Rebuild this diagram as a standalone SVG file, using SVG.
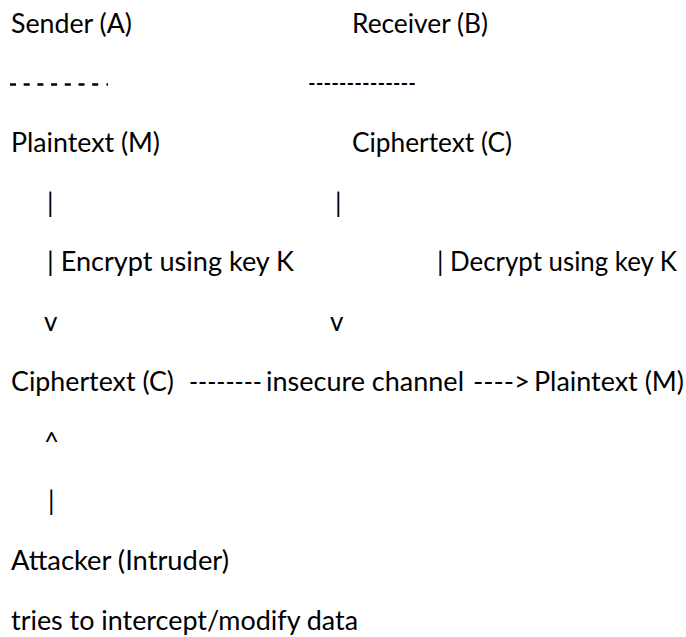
<svg xmlns="http://www.w3.org/2000/svg" width="686" height="637" viewBox="0 0 686 637">
  <style>
    text { font-family: Lato, "Open Sans", "Liberation Sans", sans-serif; font-size: 26px; fill: #000; }
    .rule { stroke: #000; stroke-width: 2.4; fill: none; }
  </style>
  <rect width="686" height="637" fill="#fff"/>

  <!-- party headings -->
  <g id="sender">
    <text x="11" y="32.6" textLength="121" lengthAdjust="spacingAndGlyphs">Sender (A)</text>
    <line class="rule" x1="10" y1="84.5" x2="102" y2="84.5" stroke-dasharray="6 7.7"/>
    <line class="rule" x1="106.5" y1="84.5" x2="108" y2="84.5"/>
  </g>
  <g id="receiver">
    <text x="352" y="32.6" textLength="136" lengthAdjust="spacingAndGlyphs">Receiver (B)</text>
    <text x="308" y="92.3" textLength="108" lengthAdjust="spacingAndGlyphs">--------------</text>
  </g>

  <!-- message states -->
  <g id="plaintext-a">
    <text x="11" y="152" textLength="149" lengthAdjust="spacingAndGlyphs">Plaintext (M)</text>
  </g>
  <g id="ciphertext-b">
    <text x="352" y="152" textLength="160" lengthAdjust="spacingAndGlyphs">Ciphertext (C)</text>
  </g>
  <g id="ciphertext-a">
    <text x="11" y="390.8" textLength="163" lengthAdjust="spacingAndGlyphs">Ciphertext (C)</text>
  </g>
  <g id="plaintext-b">
    <text x="534" y="390.8" textLength="150" lengthAdjust="spacingAndGlyphs">Plaintext (M)</text>
  </g>
  <g id="attacker">
    <text x="11" y="570" textLength="218" lengthAdjust="spacingAndGlyphs">Attacker (Intruder)</text>
    <text x="11" y="629.6" textLength="347" lengthAdjust="spacingAndGlyphs">tries to intercept/modify data</text>
  </g>

  <!-- character-drawn connectors -->
  <g id="connectors">
    <text x="47" y="211.7">|</text>
    <text x="335" y="211.7">|</text>
    <text x="47" y="271.4" textLength="247" lengthAdjust="spacingAndGlyphs">| Encrypt using key K</text>
    <text x="437" y="271.4" textLength="240" lengthAdjust="spacingAndGlyphs">| Decrypt using key K</text>
    <text x="44" y="331">v</text>
    <text x="330" y="331">v</text>
    <text x="189" y="390.8" textLength="73" lengthAdjust="spacingAndGlyphs">--------</text>
    <text x="266" y="390.8" textLength="198" lengthAdjust="spacingAndGlyphs">insecure channel</text>
    <text x="473" y="390.8" textLength="57" lengthAdjust="spacingAndGlyphs">----&gt;</text>
    <text x="44" y="450.5">^</text>
    <text x="48" y="510">|</text>
  </g>
</svg>
